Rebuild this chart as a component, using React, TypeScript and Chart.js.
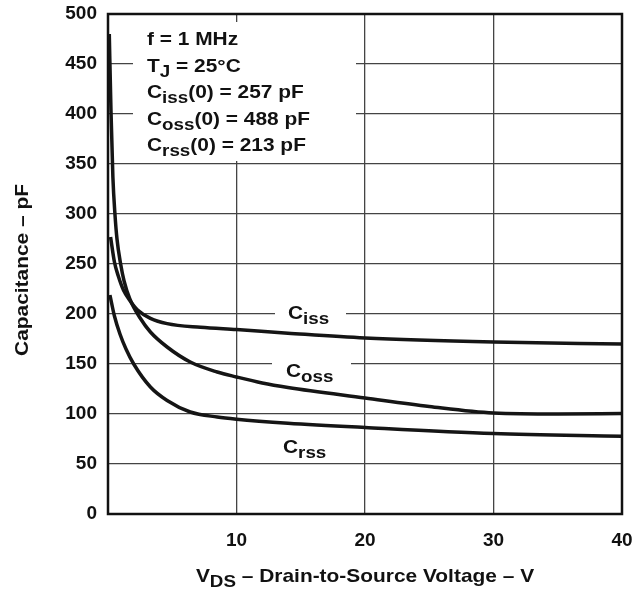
import React, { useEffect, useRef } from "react";
import { Chart, registerables } from "chart.js";

Chart.register(...registerables);

// ---- data ----
const cissV = [0.2, 0.5, 0.8, 1.2, 1.7, 2.3, 3.3, 4.6, 7.2, 10, 14, 20, 30, 40];
const cissC = [277, 252, 238, 224, 213.5, 204, 195.7, 190.4, 186.7, 184.4, 180.8, 176, 172, 170];

const cossV = [0.1, 0.23, 0.38, 0.54, 0.7, 0.97, 1.25, 1.7, 2.5, 3.3, 4.6, 6.4, 8.5, 10, 12, 14, 20, 25, 30, 35, 40];
const cossC = [480, 404, 337, 300, 275, 251, 233, 215, 196, 182, 167, 152, 142, 137, 131, 126.5, 116, 107.5, 101, 100, 100.5];

const crssV = [0.15, 0.5, 0.93, 1.4, 2.0, 3.3, 4.6, 6.4, 8.5, 10, 14, 20, 30, 40];
const crssC = [219, 198, 180, 165, 150, 127, 113.5, 102, 97, 94.8, 90.8, 86.5, 80.5, 77.8];

const xTicks = [10, 20, 30, 40];
const yTicks = [0, 50, 100, 150, 200, 250, 300, 350, 400, 450, 500];

const FONT = "'Liberation Sans', Arial, Helvetica, sans-serif";
const SX = 1.1;

function drawText(ctx: CanvasRenderingContext2D, parts: { t: string; sub?: boolean }[], x: number, y: number, size: number, align: "left" | "center" = "left") {
  const subSize = size * 0.9;
  let w = 0;
  for (const p of parts) {
    ctx.font = `bold ${p.sub ? subSize : size}px ${FONT}`;
    w += ctx.measureText(p.t).width * SX;
  }
  let cx = align === "center" ? x - w / 2 : x;
  for (const p of parts) {
    ctx.font = `bold ${p.sub ? subSize : size}px ${FONT}`;
    const pw = ctx.measureText(p.t).width * SX;
    ctx.save();
    ctx.translate(cx, y + (p.sub ? 5 : 0));
    ctx.scale(SX, 1);
    ctx.fillText(p.t, 0, 0);
    ctx.restore();
    cx += pw;
  }
}

const decorPlugin = {
  id: "decor",
  beforeDatasetsDraw(chart: any) {
    const ctx = chart.ctx as CanvasRenderingContext2D;
    const ys = chart.scales.y;
    ctx.save();
    ctx.fillStyle = "#ffffff";
    // annotation box mask
    ctx.fillRect(133, 22, 223, 139);
    // curve label masks
    const y200 = ys.getPixelForValue(200);
    const y150 = ys.getPixelForValue(150);
    ctx.fillRect(275, y200 - 4, 71, 8);
    ctx.fillRect(272, y150 - 4, 79, 8);
    ctx.restore();
  },
  afterDatasetsDraw(chart: any) {
    const ctx = chart.ctx as CanvasRenderingContext2D;
    const a = chart.chartArea;
    ctx.save();
    ctx.strokeStyle = "#111";
    ctx.lineWidth = 2.5;
    ctx.strokeRect(a.left, a.top, a.right - a.left, a.bottom - a.top);

    ctx.fillStyle = "#111";
    ctx.textBaseline = "alphabetic";
    const lx = 147;
    drawText(ctx, [{ t: "f = 1 MHz" }], lx, 45, 19);
    drawText(ctx, [{ t: "T" }, { t: "J", sub: true }, { t: " = 25°C" }], lx, 72, 19);
    drawText(ctx, [{ t: "C" }, { t: "iss", sub: true }, { t: "(0) = 257 pF" }], lx, 98, 19);
    drawText(ctx, [{ t: "C" }, { t: "oss", sub: true }, { t: "(0) = 488 pF" }], lx, 124.5, 19);
    drawText(ctx, [{ t: "C" }, { t: "rss", sub: true }, { t: "(0) = 213 pF" }], lx, 151, 19);

    // curve labels
    drawText(ctx, [{ t: "C" }, { t: "iss", sub: true }], 288, 319, 19);
    drawText(ctx, [{ t: "C" }, { t: "oss", sub: true }], 286, 377, 19);
    drawText(ctx, [{ t: "C" }, { t: "rss", sub: true }], 283, 453, 19);

    // axis titles
    drawText(ctx, [{ t: "V" }, { t: "DS", sub: true }, { t: " – Drain-to-Source Voltage – V" }], (a.left + a.right) / 2, 582, 19, "center");
    ctx.save();
    ctx.translate(28, 270);
    ctx.rotate(-Math.PI / 2);
    drawText(ctx, [{ t: "Capacitance – pF" }], 0, 0, 19, "center");
    ctx.restore();
    ctx.restore();
  },
};

function mk(v: number[], c: number[]) {
  return v.map((x, i) => ({ x, y: c[i] }));
}

export default function App() {
  const ref = useRef<HTMLCanvasElement | null>(null);
  useEffect(() => {
    if (!ref.current) return;
    const ds = (label: string, v: number[], c: number[]) => ({
      label,
      data: mk(v, c),
      borderColor: "#151515",
      borderWidth: 3.5,
      pointRadius: 0,
      fill: false,
      cubicInterpolationMode: "monotone" as const,
    });
    const chart = new Chart(ref.current, {
      type: "line",
      data: {
        datasets: [ds("Ciss", cissV, cissC), ds("Coss", cossV, cossC), ds("Crss", crssV, crssC)],
      },
      options: {
        animation: false,
        responsive: false,
        devicePixelRatio: 1,
        layout: { padding: { top: 14, right: 17, left: 0, bottom: 0 } },
        plugins: { legend: { display: false }, tooltip: { enabled: false } },
        scales: {
          x: {
            type: "linear",
            min: 0,
            max: 40,
            afterBuildTicks: (s: any) => {
              s.ticks = [0, ...xTicks].map((value) => ({ value }));
            },
            afterFit: (s: any) => {
              s.height = 76;
              s.paddingLeft = 0;
              s.paddingRight = 0;
            },
            ticks: {
              padding: 15,
              color: "#111",
              font: { family: FONT, weight: "bold", size: 19 },
              maxRotation: 0,
              callback: (v: any) => (v === 0 ? "" : String(v)),
            },
            grid: {
              drawTicks: false,
              color: (c: any) => (c.tick && (c.tick.value === 0 || c.tick.value === 40) ? "rgba(0,0,0,0)" : "#444"),
              lineWidth: 1.3,
            },
            border: { display: false },
          },
          y: {
            type: "linear",
            min: 0,
            max: 500,
            afterBuildTicks: (s: any) => {
              s.ticks = yTicks.map((value) => ({ value }));
            },
            afterFit: (s: any) => {
              s.width = 108;
              s.paddingTop = 0;
              s.paddingBottom = 0;
            },
            ticks: {
              padding: 11,
              color: "#111",
              font: { family: FONT, weight: "bold", size: 19 },
            },
            grid: {
              drawTicks: false,
              color: "#444",
              lineWidth: 1.3,
            },
            border: { display: false },
          },
        },
      },
      plugins: [decorPlugin],
    } as any);
    return () => chart.destroy();
  }, []);
  return (
    <div style={{ position: "fixed", left: 0, top: 0, width: 639, height: 590, background: "#fff" }}>
      <canvas ref={ref} width={639} height={590} style={{ display: "block", width: 639, height: 590 }} />
    </div>
  );
}
